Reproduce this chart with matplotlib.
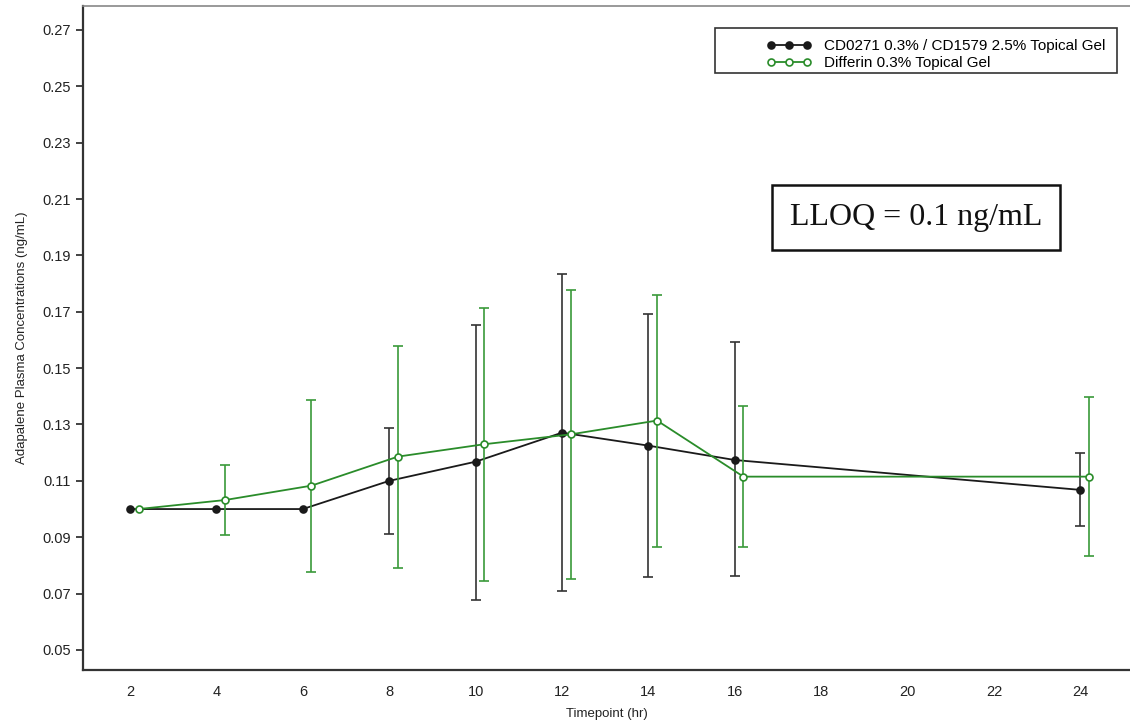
import numpy as np
import matplotlib.pyplot as plt
from matplotlib.patches import Rectangle

# timepoints (hr)
times_cd = [2, 4, 6, 8, 10, 12, 14, 16, 24]
times_dif = [2.2, 4.2, 6.2, 8.2, 10.2, 12.2, 14.2, 16.2, 24.2]

# CD0271 0.3% / CD1579 2.5% Topical Gel
cd_mean = [0.100, 0.100, 0.100, 0.110, 0.1168, 0.1271, 0.1225, 0.1174, 0.1068]
cd_upper = [0.100, 0.100, 0.100, 0.1288, 0.1653, 0.1833, 0.1691, 0.1594, 0.1200]
cd_lower = [0.100, 0.100, 0.100, 0.0912, 0.0677, 0.0709, 0.0758, 0.0764, 0.0940]

# Differin 0.3% Topical Gel
dif_mean = [0.100, 0.1032, 0.1083, 0.1186, 0.1230, 0.1265, 0.1314, 0.1115, 0.1115]
dif_upper = [0.100, 0.1155, 0.1387, 0.1579, 0.1715, 0.1777, 0.1760, 0.1367, 0.1399]
dif_lower = [0.100, 0.0909, 0.0777, 0.0790, 0.0745, 0.0751, 0.0866, 0.0866, 0.0834]

xticks = [2, 4, 6, 8, 10, 12, 14, 16, 18, 20, 22, 24]
yticks = [0.05, 0.07, 0.09, 0.11, 0.13, 0.15, 0.17, 0.19, 0.21, 0.23, 0.25, 0.27]

plt.rcParams['font.family'] = ['Liberation Sans', 'DejaVu Sans']

fig = plt.figure(figsize=(11.3, 7.28), dpi=100)
ax = fig.add_axes([0.0735, 0.0797, 0.9265, 0.9121])

black = '#1a1a1a'
green = '#2a8c2a'


def draw_series(t, mean, upper, lower, color, ecolor, face, label):
    t = np.array(t)
    mean = np.array(mean)
    upper = np.array(upper)
    lower = np.array(lower)
    has_err = (upper - lower) > 1e-6
    ax.errorbar(t[has_err], mean[has_err],
                yerr=[mean[has_err] - lower[has_err], upper[has_err] - mean[has_err]],
                fmt='none', ecolor=ecolor, elinewidth=1.2, capsize=3.6, capthick=1.2)
    ax.plot(t, mean, color=color, linewidth=1.3, marker='o', markersize=5,
            markerfacecolor=face, markeredgecolor=color, markeredgewidth=1.2, label=label)


draw_series(times_cd, cd_mean, cd_upper, cd_lower, black, '#333333', black,
            'CD0271 0.3% / CD1579 2.5% Topical Gel')
draw_series(times_dif, dif_mean, dif_upper, dif_lower, green, '#3a9a3a', 'white',
            'Differin 0.3% Topical Gel')

ax.set_xlim(0.912, 25.15)
ax.set_ylim(0.0429, 0.2785)
ax.set_xticks(xticks)
ax.set_xticklabels([str(t) for t in xticks])
ax.set_yticks(yticks)
ax.set_yticklabels(['%.2f' % v for v in yticks])
ax.tick_params(axis='x', length=0, pad=11, labelsize=10.5, colors='#222222')
ax.tick_params(axis='y', length=5, width=1.2, pad=4, labelsize=10.5, colors='#222222')

for s in ['left', 'bottom']:
    ax.spines[s].set_color('#333333')
    ax.spines[s].set_linewidth(1.6)
ax.spines['top'].set_color('#888888')
ax.spines['top'].set_linewidth(1.2)
ax.spines['right'].set_visible(False)

ax.set_xlabel('Timepoint (hr)', fontsize=9.5, labelpad=6, color='#222222')
ax.set_ylabel('Adapalene Plasma Concentrations (ng/mL)', fontsize=9.5, labelpad=10, color='#222222')

# legend frame drawn separately (the original has a wide empty margin on its left)
ax.add_patch(Rectangle((0.6036, 0.899), 0.384, 0.0678, transform=ax.transAxes,
                       facecolor='white', edgecolor='#333333', linewidth=1.2,
                       clip_on=False, zorder=4))
leg = ax.legend(loc='upper right', bbox_to_anchor=(0.9876, 0.967), fontsize=11,
                numpoints=3, handlelength=3.0, handletextpad=0.8, frameon=False,
                borderpad=0.25, labelspacing=0.2)
leg.set_zorder(5)

ax.text(0.7956, 0.6815, 'LLOQ = 0.1 ng/mL', transform=ax.transAxes,
        ha='center', va='center', fontsize=23, family='Liberation Serif', color='#111111',
        bbox=dict(boxstyle='square,pad=0.55', facecolor='white', edgecolor='#111111', linewidth=1.8))

fig.savefig('out.png', dpi=100)
